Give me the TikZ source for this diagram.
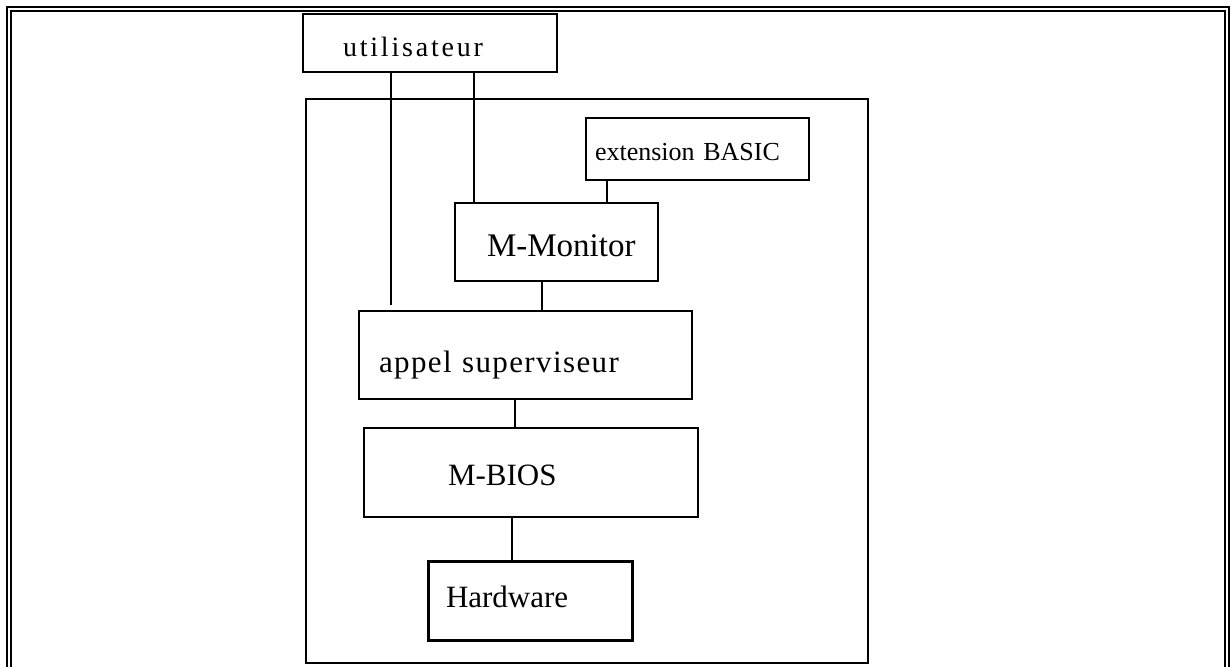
\documentclass[tikz,border=0pt]{standalone}
\usepackage{fontspec}
\setmainfont{Liberation Serif}
\usepackage{tikz}

\begin{document}
\begin{tikzpicture}[x=0.5pt, y=-0.5pt]
				\tikzstyle{Box}		= [draw, rectangle, line width=1pt, inner xsep=0pt, inner ysep=0pt, align=left, text depth=0pt]
				\tikzstyle{Thick}	= [line width=1.5pt]
				\tikzstyle{Link}	= [line width=1pt]
				\tikzstyle{Frame}	= [line width=0.85pt]

				\useasboundingbox (0,0) rectangle (1232,667);

				\draw [Frame] (7,667) -- (7,7) -- (1229,7) -- (1229,667);
				\draw [Frame] (11,667) -- (11,11) -- (1225,11) -- (1225,667);

				\node (sys) at (587,381) [Box][minimum width=281pt, minimum height=282pt] {};

				\node (util) at (430,43) [Box][text width=127pt, minimum height=29pt, text height=14pt, font=\fontsize{14}{16}\selectfont\addfontfeature{LetterSpace=10}] {\hspace*{20pt}utilisateur};

				\node (ext) at (697.5,149) [Box][text width=111.5pt, minimum height=31pt, text height=12pt, font=\fontsize{13}{15}\selectfont] {\hspace*{4.5pt}extension BASIC};

				\node (mon) at (556.5,242) [Box][text width=101.5pt, minimum height=39pt, text height=15pt, font=\fontsize{16.5}{18}\selectfont] {\hspace*{16pt}M-Monitor};

				\node (appel) at (525.5,355) [Box][text width=166.5pt, minimum height=44pt, text height=21pt, text depth=3pt, font=\fontsize{15.5}{17}\selectfont\addfontfeature{LetterSpace=4.5}] {\hspace*{10pt}appel superviseur};

				\node (bios) at (531,472.5) [Box][text width=167pt, minimum height=44.5pt, text height=13.5pt, font=\fontsize{15.5}{17}\selectfont] {\hspace*{42pt}M-BIOS};

				\node (hw) at (530,601.5) [Box][Thick][text width=102pt, minimum height=39.5pt, text height=6.5pt, font=\fontsize{15.5}{17}\selectfont] {\hspace*{9pt}Hardware};

				\coordinate (u1) at ([xshift=16.5pt, yshift=2.5pt]appel.north west);
				\coordinate (u2) at ([xshift=10pt]mon.north west);
				\coordinate (e1) at ([xshift=11pt]ext.south west);
				\coordinate (m1) at ([xshift=-7.25pt]mon.south);
				\coordinate (a1) at ([xshift=-5.25pt]appel.south);
				\coordinate (b1) at ([xshift=-9.5pt]bios.south);

				\draw [-] (u1 |- util.south) to (u1) [Link];
				\draw [-] (u2 |- util.south) to (u2) [Link];
				\draw [-] (e1) to (e1 |- mon.north) [Link];
				\draw [-] (m1) to (m1 |- appel.north) [Link];
				\draw [-] (a1) to (a1 |- bios.north) [Link];
				\draw [-] (b1) to (b1 |- hw.north) [Link];
			\end{tikzpicture}
\end{document}
